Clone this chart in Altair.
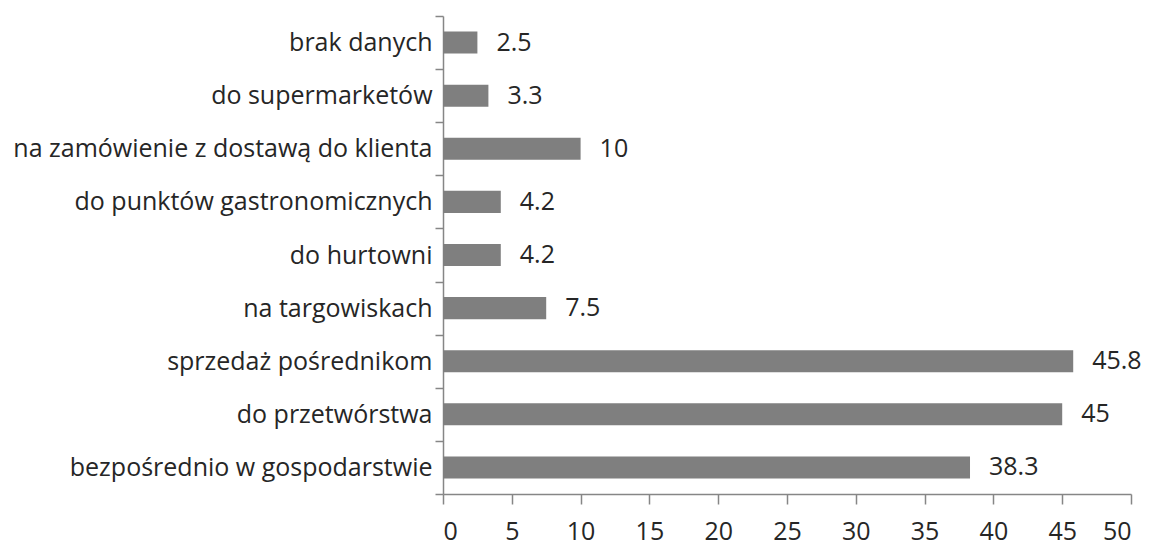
import altair as alt
import pandas as pd

categories = [
    "brak danych",
    "do supermarketów",
    "na zamówienie z dostawą do klienta",
    "do punktów gastronomicznych",
    "do hurtowni",
    "na targowiskach",
    "sprzedaż pośrednikom",
    "do przetwórstwa",
    "bezpośrednio w gospodarstwie",
]
values = [2.5, 3.3, 10, 4.2, 4.2, 7.5, 45.8, 45, 38.3]
labels = ["2.5", "3.3", "10", "4.2", "4.2", "7.5", "45.8", "45", "38.3"]
x_ticks = [0, 5, 10, 15, 20, 25, 30, 35, 40, 45, 50]

df = pd.DataFrame({"cat": categories, "val": values, "lab": labels})

FONT = "Open Sans"
FS = 25
TXT = "#262626"
AX = "#868686"

y_enc = alt.Y(
    "cat:N",
    sort=categories,
    scale=alt.Scale(paddingInner=0, paddingOuter=0),
    axis=alt.Axis(
        title=None,
        tickBand="extent",
        tickSize=8,
        labelPadding=3,
        labelFont=FONT,
        labelFontSize=FS,
        labelColor=TXT,
        labelLimit=600,
        domainColor=AX,
        tickColor=AX,
    ),
)

x_enc = alt.X(
    "val:Q",
    scale=alt.Scale(domain=[0, 50], nice=False),
    axis=alt.Axis(
        title=None,
        values=x_ticks,
        grid=False,
        tickSize=10,
        labelPadding=15,
        labelFont=FONT,
        labelFontSize=FS,
        labelColor=TXT,
        domainColor=AX,
        tickColor=AX,
    ),
)

bars = alt.Chart(df).mark_bar(color="#7f7f7f", height={"band": 0.415}).encode(
    x=x_enc, y=y_enc
)

text = alt.Chart(df).mark_text(
    align="left", baseline="middle", dx=19, font=FONT, fontSize=FS, color=TXT
).encode(x="val:Q", y=alt.Y("cat:N", sort=categories), text="lab:N")

chart = (
    alt.layer(bars, text)
    .properties(
        width=688,
        height=478,
        padding={"left": 435, "top": 8, "right": 10, "bottom": 51},
        autosize=alt.AutoSizeParams(type="none"),
    )
    .configure_view(stroke=None)
    .configure_axis(domainWidth=1.5, tickWidth=1.5)
)

chart.save("out.html", embed_options={"renderer": "svg", "actions": False})
